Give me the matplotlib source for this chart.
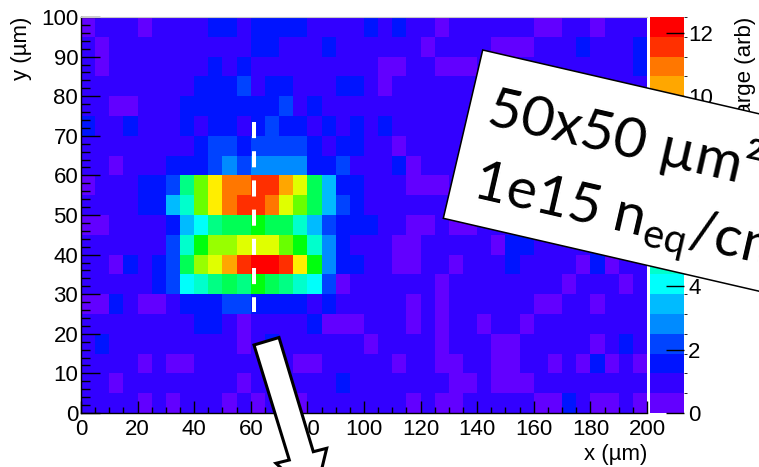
import colorsys
import numpy as np
import matplotlib
matplotlib.use("Agg")
import matplotlib.pyplot as plt
from matplotlib.colors import ListedColormap, BoundaryNorm
from matplotlib.patches import Polygon
from matplotlib.ticker import MultipleLocator

W, H = 759, 467

# collected charge per 5x5 um bin; first row is y = 95-100 um, last row y = 0-5 um
charge = [
    [0.3, 0.9, 0.9, 0.9, 0.3, 0.9, 0.9, 0.9, 0.9, 1.6, 1.6, 0.9, 1.6, 1.6, 1.6, 1.6, 0.9, 0.9, 0.9, 0.9,
     1.6, 0.9, 1.6, 0.9, 0.9, 0.3, 0.9, 0.9, 0.9, 0.9, 0.9, 0.9, 0.3, 0.3, 0.9, 0.9, 0.3, 0.9, 0.9, 0.9],
    [0.9, 0.3, 0.9, 0.9, 0.9, 0.9, 0.9, 0.9, 0.9, 0.9, 0.9, 0.9, 1.6, 1.6, 0.9, 0.9, 0.9, 1.6, 0.9, 0.9,
     0.9, 0.9, 0.9, 0.9, 0.3, 0.9, 0.9, 0.9, 0.9, 0.3, 0.3, 0.3, 0.9, 0.9, 0.9, 1.6, 0.9, 0.9, 0.9, 1.6],
    [0.9, 0.3, 0.9, 0.9, 0.9, 0.9, 0.9, 0.9, 0.9, 1.6, 0.9, 1.6, 0.9, 0.9, 0.9, 0.9, 0.9, 0.9, 0.9, 0.9,
     0.9, 0.3, 0.3, 0.9, 0.9, 0.3, 0.3, 0.3, 0.9, 0.9, 0.9, 0.9, 0.9, 0.9, 0.9, 0.9, 0.9, 0.9, 0.9, 1.6],
    [0.9, 0.9, 0.9, 0.9, 0.9, 0.9, 0.9, 0.9, 1.6, 1.6, 1.6, 2.2, 0.9, 1.6, 1.6, 0.9, 0.9, 0.9, 1.6, 1.6,
     0.9, 0.3, 0.9, 0.9, 0.9, 0.9, 0.9, 0.9, 0.9, 0.9, 0.9, 0.9, 0.9, 0.9, 0.9, 0.9, 0.9, 0.9, 0.9, 0.9],
    [0.9, 0.9, 0.3, 0.3, 0.9, 0.9, 0.9, 1.6, 1.6, 1.6, 1.6, 1.6, 1.6, 1.6, 2.2, 0.9, 1.6, 0.9, 0.9, 0.9,
     0.9, 0.9, 0.9, 0.9, 0.9, 0.9, 0.9, 0.9, 0.9, 0.9, 0.9, 0.9, 0.9, 0.9, 0.9, 0.9, 0.9, 0.9, 0.9, 0.9],
    [1.6, 0.9, 0.9, 1.6, 0.9, 0.9, 0.9, 1.6, 0.9, 1.6, 1.6, 0.9, 1.6, 2.2, 1.6, 1.6, 0.9, 1.6, 0.9, 1.6,
     0.9, 1.6, 0.9, 0.9, 0.9, 0.9, 0.9, 0.9, 0.9, 0.9, 0.9, 0.9, 0.9, 0.9, 0.9, 0.9, 0.9, 0.9, 0.9, 0.9],
    [0.9, 0.9, 0.9, 0.9, 0.9, 0.9, 0.9, 0.9, 1.6, 2.2, 2.2, 1.6, 2.2, 2.2, 2.2, 2.2, 1.6, 0.9, 1.6, 1.6,
     0.9, 0.9, 0.3, 0.9, 0.9, 0.9, 0.9, 0.9, 0.9, 0.9, 0.9, 0.9, 0.9, 0.9, 0.9, 0.9, 0.9, 0.9, 0.9, 0.9],
    [0.9, 0.9, 0.3, 0.9, 0.9, 0.9, 1.6, 1.6, 1.6, 2.2, 2.8, 2.2, 2.8, 2.8, 2.8, 2.8, 1.6, 1.6, 2.2, 0.9,
     0.9, 0.9, 1.6, 0.3, 0.9, 0.9, 0.9, 0.9, 0.9, 0.9, 0.9, 0.9, 0.9, 0.9, 0.9, 0.9, 0.9, 0.9, 0.9, 0.9],
    [0.3, 0.9, 0.9, 0.9, 1.6, 1.6, 2.2, 5.3, 7.8, 9.7, 10.9, 10.9, 11.6, 11.6, 10.3, 9.1, 5.9, 3.4, 1.6, 1.6,
     0.9, 0.9, 0.9, 0.3, 0.3, 0.3, 0.9, 0.9, 0.9, 0.9, 0.9, 0.9, 0.9, 0.9, 0.9, 0.9, 0.9, 0.9, 0.9, 0.9],
    [0.9, 0.9, 0.9, 0.9, 1.6, 1.6, 3.4, 4.7, 7.8, 9.7, 10.9, 11.6, 11.6, 10.9, 9.1, 7.8, 5.9, 3.4, 2.2, 1.6,
     0.9, 0.9, 0.9, 0.9, 0.9, 0.9, 0.9, 0.9, 0.9, 0.9, 0.9, 0.9, 0.9, 0.9, 0.9, 0.9, 0.9, 0.9, 0.9, 0.9],
    [0.3, 0.3, 0.9, 0.9, 0.9, 0.9, 1.6, 3.4, 4.1, 5.3, 5.9, 5.9, 6.6, 5.9, 5.9, 4.7, 3.4, 2.2, 1.6, 1.6,
     1.6, 0.9, 0.9, 0.3, 0.3, 0.9, 0.3, 0.3, 0.9, 0.9, 0.9, 0.9, 0.9, 0.9, 0.9, 0.9, 0.9, 0.9, 0.9, 0.9],
    [0.9, 0.9, 0.9, 0.9, 0.9, 0.9, 2.2, 4.7, 6.6, 8.4, 8.4, 9.1, 9.1, 9.1, 7.8, 6.6, 4.7, 2.8, 1.6, 0.9,
     0.9, 0.9, 0.3, 0.3, 0.9, 0.9, 0.9, 0.9, 0.9, 0.3, 1.6, 1.6, 0.9, 0.9, 0.9, 0.9, 1.6, 0.9, 0.9, 0.9],
    [0.9, 0.9, 0.3, 1.6, 0.9, 1.6, 2.2, 5.9, 8.4, 9.1, 10.3, 11.6, 12.2, 12.2, 11.6, 9.7, 6.6, 2.8, 1.6, 1.6,
     0.9, 0.9, 0.3, 0.3, 0.9, 0.9, 0.3, 0.9, 0.9, 0.9, 1.6, 0.9, 0.9, 0.9, 0.9, 0.3, 1.6, 0.3, 0.9, 0.9],
    [0.9, 0.9, 0.9, 0.9, 0.9, 1.6, 2.2, 4.1, 4.7, 5.3, 5.9, 5.3, 6.6, 5.9, 5.3, 4.7, 4.1, 2.2, 0.3, 0.9,
     0.9, 0.9, 0.9, 0.9, 0.9, 0.3, 0.9, 0.9, 0.9, 0.9, 0.9, 0.9, 0.9, 0.9, 0.3, 0.9, 0.9, 0.9, 0.3, 0.9],
    [0.3, 0.3, 1.6, 0.9, 0.3, 0.3, 0.9, 1.6, 1.6, 1.6, 2.2, 2.2, 1.6, 1.6, 1.6, 1.6, 0.9, 1.6, 0.9, 0.9,
     0.9, 0.9, 0.9, 0.3, 0.9, 0.3, 0.9, 0.9, 0.9, 0.9, 0.9, 0.9, 0.3, 0.3, 0.9, 0.9, 0.3, 0.9, 0.9, 0.9],
    [0.9, 0.9, 0.9, 0.9, 0.9, 0.9, 0.9, 0.9, 1.6, 1.6, 0.9, 0.3, 0.9, 0.9, 0.9, 0.9, 1.6, 0.3, 0.3, 0.3,
     0.9, 0.9, 0.9, 0.3, 0.9, 0.3, 0.9, 0.9, 0.3, 0.9, 0.9, 0.3, 0.9, 0.9, 0.9, 0.9, 0.9, 0.9, 0.9, 0.9],
    [0.9, 1.6, 0.9, 0.9, 0.9, 0.9, 0.9, 0.9, 0.9, 0.9, 0.9, 0.3, 0.9, 1.6, 0.9, 0.9, 0.9, 0.9, 0.9, 0.9,
     0.3, 0.9, 0.9, 0.9, 0.9, 0.3, 0.9, 0.9, 0.9, 0.3, 0.3, 0.9, 0.9, 0.9, 0.9, 0.9, 0.3, 0.9, 1.6, 0.9],
    [0.9, 0.9, 0.9, 0.9, 0.3, 0.9, 0.3, 0.3, 0.9, 0.9, 0.9, 0.9, 0.9, 0.9, 0.9, 0.3, 0.3, 0.9, 0.9, 0.9,
     0.9, 0.9, 0.3, 0.9, 0.9, 0.3, 0.3, 0.9, 0.9, 0.3, 0.3, 0.9, 0.9, 0.3, 0.9, 0.3, 1.6, 0.3, 0.9, 0.3],
    [0.9, 0.9, 0.3, 0.9, 0.9, 0.9, 0.9, 0.9, 0.9, 0.9, 0.9, 0.3, 0.9, 0.9, 0.9, 0.9, 0.9, 0.9, 1.6, 0.9,
     0.9, 0.9, 0.9, 0.9, 0.9, 0.9, 0.3, 0.3, 0.9, 0.3, 0.3, 0.3, 0.9, 0.9, 0.9, 0.9, 0.9, 0.9, 0.9, 0.9],
    [0.9, 0.9, 0.9, 0.9, 0.3, 0.9, 0.3, 0.9, 0.9, 0.9, 0.3, 0.9, 0.3, 0.9, 0.9, 0.3, 0.9, 0.9, 0.9, 0.9,
     0.9, 0.9, 0.9, 0.3, 0.9, 0.3, 0.3, 0.9, 0.9, 0.9, 0.9, 0.9, 0.3, 0.3, 1.6, 0.9, 0.3, 0.3, 0.9, 0.3],
]
x_range = (0, 200)
y_range = (0, 100)
z_max = 12.5
n_contours = 20
x_ticks = list(range(0, 201, 20))
y_ticks = list(range(0, 101, 10))
z_ticks = list(range(0, 13, 2))
scan_x = 61
scan_y = (73.5, 25.5)
box_lines = ["50x50 \u00b5m\u00b2", "1e15 n$_{\\mathregular{eq}}$/cm\u00b2"]


def px(x, y):
    # pixel position measured from the top-left corner -> figure fraction
    return x / W, 1 - y / H


def root_palette(ncolors=50):
    # ROOT "pretty palette" (SetPalette(1)): violet -> red at fixed L and S
    cols = []
    for i in range(ncolors - 1):
        hue = 280 - (i + 1) * 280 / ncolors
        cols.append(colorsys.hls_to_rgb(hue / 360, 0.5, 1.0))
    cols.append((1.0, 0.0, 0.0))
    return cols


pal = root_palette()
cmap = ListedColormap([pal[int((k + 0.99) * len(pal) / n_contours)] for k in range(n_contours)])
norm = BoundaryNorm(np.linspace(0, z_max, n_contours + 1), n_contours)

plt.rcParams["font.family"] = ["Liberation Sans", "DejaVu Sans"]

fig = plt.figure(figsize=(W / 100, H / 100), dpi=100)
ax = fig.add_axes([81 / W, 1 - 413 / H, 566 / W, 396 / H])
cax = fig.add_axes([650 / W, 1 - 413 / H, 34 / W, 396 / H])

im = ax.imshow(np.array(charge), extent=(*x_range, *y_range), origin="upper",
               aspect="auto", cmap=cmap, norm=norm, interpolation="nearest")
ax.plot([scan_x, scan_x], scan_y, color="white", lw=2.9, linestyle=(0, (4, 3.25)))

ax.set_xlim(x_range)
ax.set_ylim(y_range)
ax.set_xticks(x_ticks)
ax.set_yticks(y_ticks)
ax.xaxis.set_minor_locator(MultipleLocator(5))
ax.yaxis.set_minor_locator(MultipleLocator(2))
ax.tick_params(which="both", direction="in", top=False, right=False,
               width=1, color="black", labelsize=16)
ax.tick_params(axis="x", which="major", length=8.6, pad=4)
ax.tick_params(axis="x", which="minor", length=4.5)
ax.tick_params(axis="y", which="major", length=13.5, pad=2)
ax.tick_params(axis="y", which="minor", length=6.5)
for side in ("left", "bottom"):
    ax.spines[side].set_linewidth(1)
ax.spines["top"].set_color("#c8c8c8")
ax.spines["top"].set_linewidth(0.8)
ax.spines["right"].set_visible(False)

cb = fig.colorbar(im, cax=cax, ticks=z_ticks)
cb.outline.set_visible(False)
cax.tick_params(direction="in", length=13, width=1, color="black", labelsize=16, pad=3)

fig.text(*px(647, 460), "x (\u00b5m)", ha="right", va="baseline", fontsize=16)
fig.text(*px(22, 17), "y (\u00b5m)", rotation=90, ha="center", va="top", fontsize=16)
fig.text(*px(745, 17), "Charge (arb)", rotation=90, ha="center", va="top", fontsize=16)

# tilted label card over the upper right corner
ang = np.deg2rad(13)
u = np.array([np.cos(ang), np.sin(ang)])
tl = np.array([482.7, 50.0])
bl = np.array([443.3, 218.3])
card = [tl, tl + 520 * u, bl + 520 * u, bl]
fig.add_artist(Polygon([px(*c) for c in card], closed=True, transform=fig.transFigure,
                       facecolor="white", edgecolor="black", lw=1.1, zorder=5))
fig.text(*px(485, 124), box_lines[0], rotation=-13, rotation_mode="anchor",
         ha="left", va="baseline", fontsize=41, family="Lato", zorder=6)
fig.text(*px(470, 197), box_lines[1], rotation=-13, rotation_mode="anchor",
         ha="left", va="baseline", fontsize=41, family="Lato", zorder=6)

# block arrow pointing down from the scan line
arrow = [(254, 345), (279, 337.5), (313.3, 451.7), (326.7, 448.3),
         (314.5, 499), (276, 463.3), (289.3, 460)]
fig.add_artist(Polygon([px(*p) for p in arrow], closed=True, transform=fig.transFigure,
                       facecolor="white", edgecolor="black", lw=2.2, zorder=7))

fig.savefig("out.png", dpi=100)
